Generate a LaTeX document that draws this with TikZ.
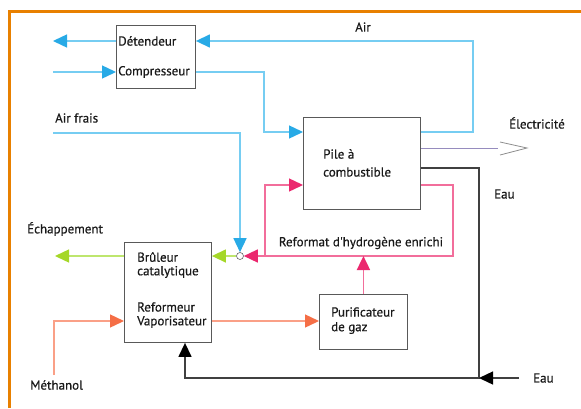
\documentclass[tikz,border=0pt]{standalone}
\usepackage{fontspec}
\setmainfont{PT Sans}
\newfontfamily\etiquette{PT Sans}[FakeBold=0.6]
\usetikzlibrary{arrows.meta}

\definecolor{cadre}{RGB}{232,128,0}
\definecolor{bleu}{RGB}{40,170,230}
\definecolor{bleuclair}{RGB}{118,205,242}
\definecolor{rose}{RGB}{235,40,110}
\definecolor{roseclair}{RGB}{242,110,155}
\definecolor{vert}{RGB}{165,215,40}
\definecolor{vertclair}{RGB}{190,230,110}
\definecolor{saumon}{RGB}{245,110,70}
\definecolor{saumonclair}{RGB}{250,160,135}
\definecolor{violet}{RGB}{150,140,190}

\tikzset{
  boite/.style={draw=black!65, line width=0.9pt, anchor=north west, inner sep=0pt},
  texte/.style={font=\etiquette\fontsize{13}{15}\selectfont, inner sep=0pt, text=black!90},
  fleche/.style={line width=1.4pt, -{Triangle[length=14pt,width=13pt,color=#1]}}
}

\begin{document}
\begin{tikzpicture}[x=1pt,y=-1pt]
            \useasboundingbox (0,0) rectangle (581,408);
            \draw[cadre, line width=3pt] (9,408) -- (9,11) -- (581,11);
            % boites
            \node[boite, minimum width=79pt, minimum height=63pt] (det) at (116,25) {};
            \node[boite, minimum width=117pt, minimum height=92pt] (pile) at (303,117) {};
            \node[boite, minimum width=87pt, minimum height=100pt] (brul) at (124,242) {};
            \node[boite, minimum width=88pt, minimum height=55pt] (purif) at (319,294) {};
            \node[circle, draw=black!60, fill=white, line width=0.6pt, inner sep=0pt, minimum size=7pt] (jonc) at (240,256) {};
            % textes
            \begin{scope}[every node/.style={texte, anchor=west}]
                \node (tdet) at (118,41) {Détendeur};
                \node (tcomp) at (118,72) {Compresseur};
                \node (tpile1) at (323,154) {Pile à};
                \node (tpile2) at (323,172) {combustible};
                \node (tbrul1) at (137,257) {Brûleur};
                \node (tbrul2) at (137,272) {catalytique};
                \node (tref1) at (137,307) {Reformeur};
                \node (tref2) at (137,322) {Vaporisateur};
                \node (tpur1) at (331,312) {Purificateur};
                \node (tpur2) at (331,328) {de gaz};
                \node (lairfrais) at (55,118) {Air frais};
                \node (lelec) at (509,123) {Électricité};
                \node (leau1) at (494,194) {Eau};
                \node (leau2) at (533,378) {Eau};
                \node (lechap) at (27,229) {Échappement};
                \node (lmeth) at (30,385) {Méthanol};
            \end{scope}
            \node[texte] (lair) at (363,27) {Air};
            \node[texte] (lreformat) at (361,243) {Reformat d'hydrogène enrichi};
            % points libres et coins
            \coordinate (detout) at (53,41);
            \coordinate (compin) at (53,72);
            \coordinate (air1) at (473,41);
            \coordinate (air2) at (473,132);
            \coordinate (comp1) at (264,72);
            \coordinate (comp2) at (264,132);
            \coordinate (frais1) at (53,133);
            \coordinate (frais2) at (240,133);
            \coordinate (echap) at (55,256);
            \coordinate (meth1) at (54,375);
            \coordinate (meth2) at (54,321);
            \coordinate (rose1) at (453,185);
            \coordinate (rose2) at (453,256);
            \coordinate (branche) at (265,256);
            \coordinate (eau1) at (479,168);
            \coordinate (eau2) at (479,378);
            \coordinate (eau3) at (185,378);
            \coordinate (eauin) at (519,378);
            \coordinate (elec) at (498,148);
            % air
            \draw[fleche=bleu, bleuclair] (det.west |- detout) -- (detout);
            \draw[fleche=bleu, bleuclair] (compin) -- (det.west |- compin);
            \draw[fleche=bleu, bleuclair] (pile.east |- air2) -- (air2) -- (air1) -- (det.east |- air1);
            \draw[fleche=bleu, bleuclair] (det.east |- comp1) -- (comp1) -- (comp2) -- (pile.west |- comp2);
            \draw[fleche=bleu, bleuclair] (frais1) -- (frais2) -- (jonc.north);
            % hydrogene
            \draw[fleche=rose, roseclair] (pile.east |- rose1) -- (rose1) -- (rose2) -- (jonc.east);
            \draw[fleche=rose, roseclair] (branche) -- (branche |- rose1) -- (pile.west |- rose1);
            \draw[fleche=rose, draw=roseclair, line width=1.8pt] (purif.north) -- (purif.north |- rose2);
            % echappement
            \draw[fleche=vert, vertclair] (jonc.west) -- (brul.east |- jonc);
            \draw[fleche=vert, vertclair] (brul.west |- echap) -- (echap);
            % methanol
            \draw[fleche=saumon, saumonclair] (meth1) -- (meth2) -- (brul.west |- meth2);
            \draw[fleche=saumon, saumonclair] (brul.east |- meth2) -- (purif.west |- meth2);
            % eau
            \draw[fleche=black, black!75] (pile.east |- eau1) -- (eau1) -- (eau2) -- (eau3) -- (brul.south -| eau3);
            \draw[fleche=black, black!75] (eauin) -- (eau2);
            % electricite
            \draw[violet, line width=0.8pt] (pile.east |- elec) -- (elec);
            \draw[black!45, line width=0.8pt] (elec) ++(2,-6) -- ++(27,6) -- ++(-27,7);
        \end{tikzpicture}
\end{document}
